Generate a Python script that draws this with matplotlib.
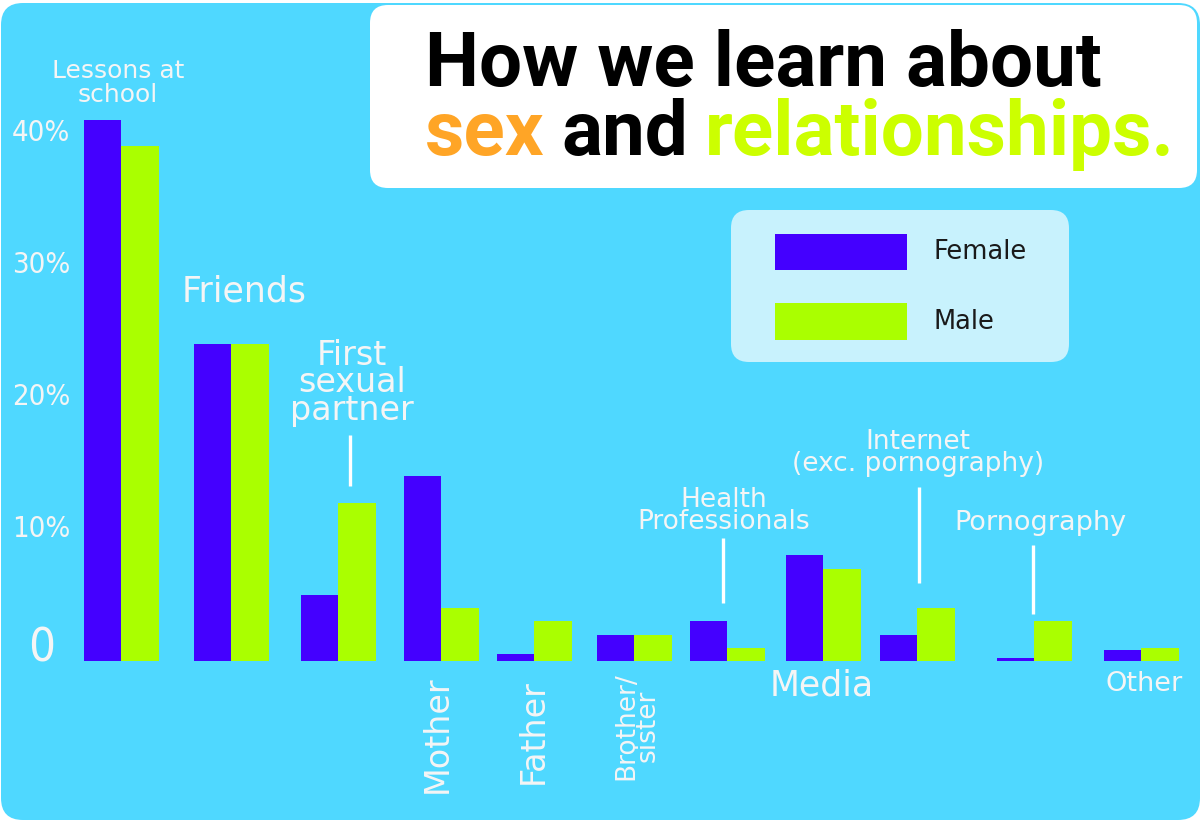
import matplotlib
matplotlib.use("Agg")
import matplotlib.pyplot as plt
from matplotlib.patches import FancyBboxPatch, Rectangle
import numpy as np

# Data (percent of respondents)
categories = ["Lessons at school", "Friends", "First sexual partner", "Mother",
              "Father", "Brother/sister", "Health Professionals", "Media",
              "Internet (exc. pornography)", "Pornography", "Other"]
female = [41, 24, 5, 14, 0.5, 2, 3, 8, 2, 0.2, 0.8]
male = [39, 24, 12, 4, 3, 2, 1, 7, 4, 3, 1]
yticks = [0, 10, 20, 30, 40]
ytick_labels = ["0", "10%", "20%", "30%", "40%"]

# layout: group centres in pixels
centers = np.array([121, 231, 338, 441, 534, 634, 727, 823, 917, 1034, 1141])
bar_w = 37.5

W, H = 1201, 821
base_px = 661      # pixel row of the 0 line
px_per_pct = 13.2

BG = "#4fd8ff"
FEM = "#4400ff"
MAL = "#aaff00"
TXT = "#f5f5f5"
LBL = "DejaVu Sans"

fig = plt.figure(figsize=(W / 100, H / 100), dpi=100, facecolor="white")

# decoration layer in pixel coords (y down)
deco = fig.add_axes([0, 0, 1, 1], zorder=0)
deco.set_xlim(0, W)
deco.set_ylim(H, 0)
deco.axis("off")

deco.add_patch(FancyBboxPatch((1, 3), W - 2, H - 4,
                              boxstyle="round,pad=0,rounding_size=22",
                              fc=BG, ec="none"))
deco.add_patch(FancyBboxPatch((370, 5), 827, 183,
                              boxstyle="round,pad=0,rounding_size=18",
                              fc="white", ec="none"))
deco.add_patch(FancyBboxPatch((731, 210), 338, 152,
                              boxstyle="round,pad=0,rounding_size=18",
                              fc="#c8f2fd", ec="none"))

# legend
deco.add_patch(Rectangle((775, 234), 132, 36, fc=FEM, ec="none"))
deco.add_patch(Rectangle((775, 303), 132, 37, fc=MAL, ec="none"))
deco.text(933, 252, "Female", fontsize=18.5, family=LBL, color="#1a1a1a", va="center")
deco.text(933, 322, "Male", fontsize=18.5, family=LBL, color="#1a1a1a", va="center")

# title
TS = 55
t1 = deco.text(425, 86, "How we learn about", fontsize=TS, family="Roboto",
               weight="bold", color="black", va="baseline")
t2 = deco.text(425, 155, "sex", fontsize=TS, family="Roboto", weight="bold",
               color="#ffa526", va="baseline")
t3 = deco.annotate("and", xy=(1, 0), xycoords=t2, xytext=(12, 0),
                   textcoords="offset points", fontsize=TS, family="Roboto",
                   weight="bold", color="black", va="bottom", ha="left")
deco.annotate("relationships.", xy=(1, 0), xycoords=t3, xytext=(12, 0),
              textcoords="offset points", fontsize=TS, family="Roboto",
              weight="bold", color="#ccff00", va="bottom", ha="left")

# category labels
deco.text(118, 83, "Lessons at\nschool", fontsize=18, family=LBL, color=TXT,
          ha="center", va="center", linespacing=1.0)
deco.text(244, 292, "Friends", fontsize=25, family=LBL, color=TXT,
          ha="center", va="center")
deco.text(352, 383, "First\nsexual\npartner", fontsize=24, family=LBL, color=TXT,
          ha="center", va="center", linespacing=0.78)
deco.text(437, 675, "Mother", fontsize=24, family=LBL, color=TXT,
          ha="center", va="top", rotation=90)
deco.text(533, 679, "Father", fontsize=24, family=LBL, color=TXT,
          ha="center", va="top", rotation=90)
deco.text(637, 672, "Brother/\nsister", fontsize=19, family=LBL, color=TXT,
          ha="center", va="top", rotation=90, linespacing=0.78)
deco.text(724, 511, "Health\nProfessionals", fontsize=19, family=LBL, color=TXT,
          ha="center", va="center", linespacing=0.82)
deco.text(822, 686, "Media", fontsize=25, family=LBL, color=TXT,
          ha="center", va="center")
deco.text(918, 453, "Internet\n(exc. pornography)", fontsize=19, family=LBL,
          color=TXT, ha="center", va="center", linespacing=0.82)
deco.text(1040, 523, "Pornography", fontsize=19.5, family=LBL, color=TXT,
          ha="center", va="center")
deco.text(1144, 684, "Other", fontsize=19.5, family=LBL, color=TXT,
          ha="center", va="center")

# pointer lines
for x, y0, y1 in [(350, 435, 486), (723, 538, 603), (919, 487, 583), (1033, 545, 614)]:
    deco.plot([x, x], [y0, y1], color="white", lw=2.4, solid_capstyle="butt")

# bars layer: x in pixels, y in percent
ax = fig.add_axes([0, 0, 1, 1], zorder=1)
ax.patch.set_alpha(0)
ax.set_xlim(0, W)
ax.set_ylim(-(H - base_px) / px_per_pct, base_px / px_per_pct)
ax.axis("off")

ax.bar(centers - bar_w / 2, female, width=bar_w, color=FEM, edgecolor="none")
ax.bar(centers + bar_w / 2, male, width=bar_w, color=MAL, edgecolor="none")

for v, lab in zip(yticks, ytick_labels):
    if v == 0:
        ax.text(42, v, lab, fontsize=34, family="DejaVu Sans", stretch="condensed",
                weight="light", color=TXT, ha="center", va="baseline")
    else:
        ax.text(41, v, lab, fontsize=21, family="DejaVu Sans", stretch="condensed",
                weight="light", color=TXT, ha="center", va="center")

fig.savefig("out.png", dpi=100, facecolor="white")
